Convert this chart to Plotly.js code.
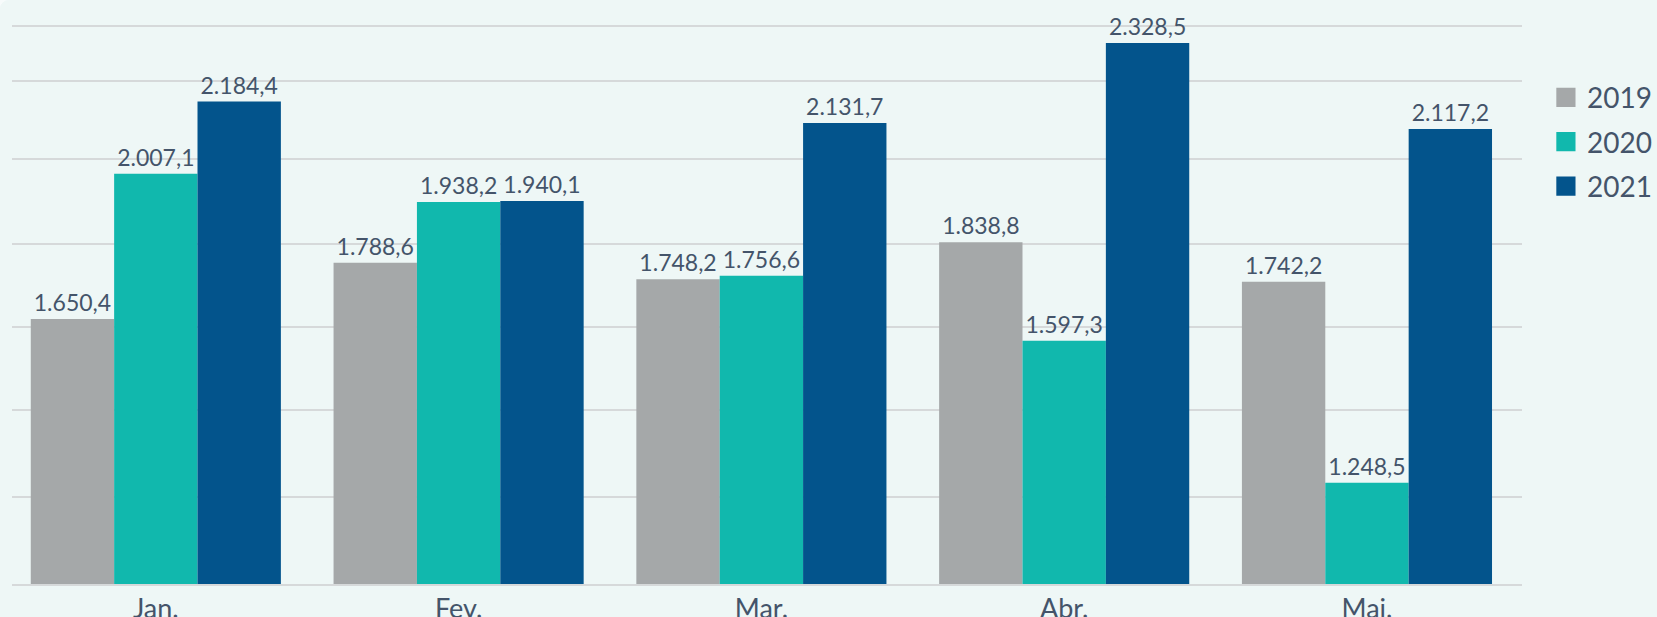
<!DOCTYPE html>
<html>
<head>
<meta charset="utf-8">
<script src="https://cdn.plot.ly/plotly-3.0.1.min.js"></script>
<style>
  html, body { margin: 0; padding: 0; background: #f7fbfb; }
  #chart { width: 1657px; height: 617px; border-top-left-radius: 9px; overflow: hidden; background: #eef7f6; }
  #chart .legend .legendpoints {
    transform-box: fill-box;
    transform-origin: center;
    transform: translateX(-1px) scale(1.6);
  }
</style>
</head>
<body>
<div id="chart"></div>
<script>
const months = ['Jan.', 'Fev.', 'Mar.', 'Abr.', 'Mai.'];
const years = ['2019', '2020', '2021'];
const v2019 = [1650.4, 1788.6, 1748.2, 1838.8, 1742.2];
const v2020 = [2007.1, 1938.2, 1756.6, 1597.3, 1248.5];
const v2021 = [2184.4, 1940.1, 2131.7, 2328.5, 2117.2];
const gridValues = [1214, 1427, 1630, 1834, 2043, 2234, 2371];

const colors = ['#a5a8a9', '#11b8ad', '#03548c'];
const textColor = '#44546a';
const series = [v2019, v2020, v2021];

const traces = series.map((vals, i) => ({
  type: 'bar',
  name: years[i],
  x: months,
  y: vals,
  marker: { color: colors[i], line: { width: 0 } },
  texttemplate: '%{y:,.1f}',
  textposition: 'outside',
  constraintext: 'none',
  cliponaxis: true,
  textfont: { family: 'Lato', size: 23, color: textColor },
  hoverinfo: 'skip',
  legendgroup: years[i]
}));

const layout = {
  width: 1657,
  height: 617,
  separators: ',.',
  paper_bgcolor: '#eef7f6',
  plot_bgcolor: '#eef7f6',
  font: { family: 'Lato', color: textColor },
  margin: { l: 12, r: 135, t: 0, b: 33.4, pad: 0 },
  barmode: 'group',
  bargap: 0.174,
  bargroupgap: 0,
  showlegend: true,
  legend: {
    x: 1.0165, xanchor: 'left',
    y: 0.8757, yanchor: 'top',
    font: { family: 'Lato', size: 28, color: textColor },
    tracegroupgap: 5,
    bgcolor: 'rgba(0,0,0,0)',
    itemclick: false, itemdoubleclick: false
  },
  xaxis: {
    type: 'category',
    range: [-0.475, 4.512],
    showgrid: false,
    showline: true,
    linecolor: '#d6d9da',
    linewidth: 2,
    ticks: '',
    tickfont: { family: 'Lato', size: 27, color: textColor },
    fixedrange: true
  },
  yaxis: {
    range: [1000, 2433.9],
    tickvals: gridValues,
    showticklabels: false,
    showgrid: true,
    gridcolor: '#d6d9da',
    gridwidth: 2,
    zeroline: false,
    showline: false,
    ticks: '',
    fixedrange: true
  }
};

Plotly.newPlot('chart', traces, layout, { displayModeBar: false, staticPlot: true });
</script>
</body>
</html>
